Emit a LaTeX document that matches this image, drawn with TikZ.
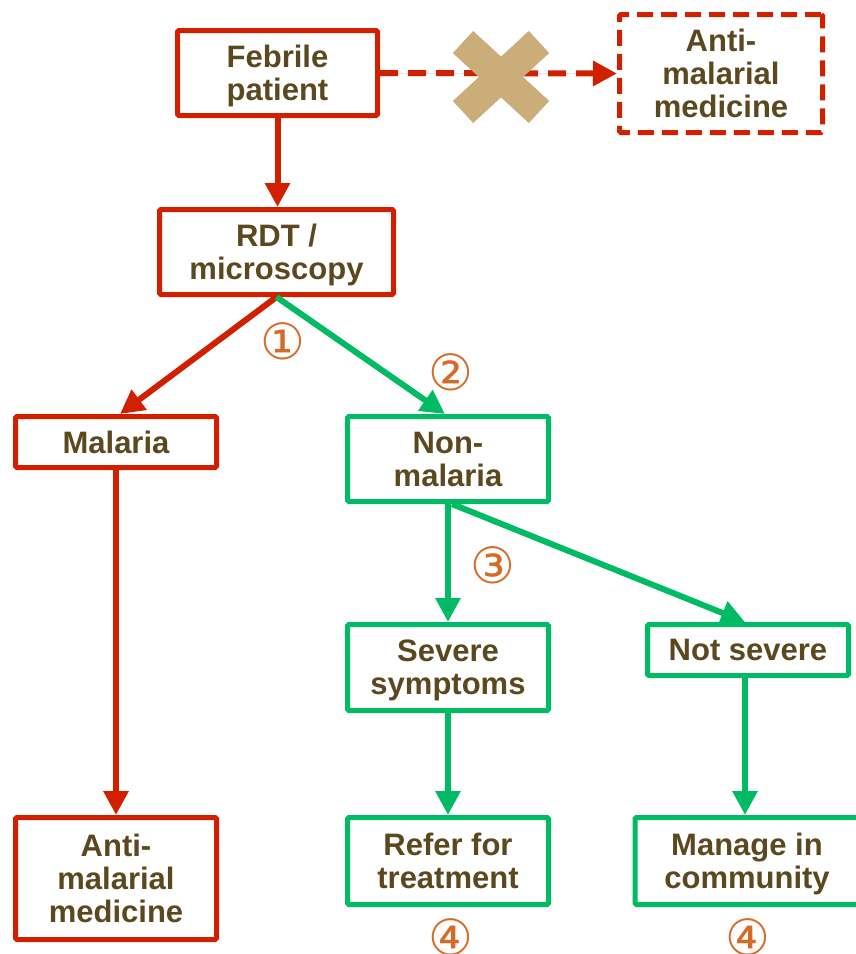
\documentclass[tikz,border=0pt]{standalone}
\usepackage{fontspec}
\setmainfont{Liberation Sans}
\newfontfamily\symfont{DejaVu Sans}
\usetikzlibrary{arrows.meta,calc}
\definecolor{cred}{RGB}{208,32,0}
\definecolor{cgreen}{RGB}{0,186,100}
\definecolor{ctext}{RGB}{92,72,30}
\definecolor{ctan}{RGB}{202,173,120}
\definecolor{corange}{RGB}{212,108,40}
\tikzset{
  box/.style={draw, rectangle, rounded corners=1.5pt, line width=5pt, fill=white,
    align=center, text=ctext, font=\fontsize{31}{33}\selectfont\bfseries, inner sep=0pt,
    text depth=0pt},
  redbox/.style={box, draw=cred},
  greenbox/.style={box, draw=cgreen},
  conn/.style={line width=6pt, -{Triangle[length=24pt,width=24pt]}},
  redconn/.style={conn, draw=cred, fill=cred},
  greenconn/.style={conn, draw=cgreen, fill=cgreen},
  numlabel/.style={text=corange, font=\symfont\fontsize{50}{50}\selectfont, inner sep=0pt}
}
\begin{document}
\begin{tikzpicture}[x=1pt,y=-1pt]
\useasboundingbox (0,0) rectangle (855,954);
% boxes
\node[redbox, minimum width=200pt, minimum height=85pt] (feb) at (277.5,73) {Febrile\\patient};
\node[redbox, dash pattern=on 16pt off 8pt, minimum width=203pt, minimum height=118pt] (amtop) at (721,73.5) {Anti-\\malarial\\medicine};
\node[redbox, minimum width=234pt, minimum height=85pt] (rdt) at (276.5,252) {RDT /\\microscopy};
\node[redbox, minimum width=201pt, minimum height=51pt] (mal) at (116,442) {Malaria};
\node[greenbox, minimum width=201pt, minimum height=85pt] (nm) at (448,459) {Non-\\malaria};
\node[greenbox, minimum width=201pt, minimum height=86pt] (sev) at (448,667.5) {Severe\\symptoms};
\node[greenbox, minimum width=201pt, minimum height=51pt] (ns) at (748,650) {Not severe};
\node[redbox, minimum width=201pt, minimum height=122pt] (ambot) at (116,878.5) {Anti-\\malarial\\medicine};
\node[greenbox, minimum width=201pt, minimum height=87pt] (ref) at (448,861) {Refer for\\treatment};
\node[greenbox, minimum width=224pt, minimum height=87pt] (man) at (747,861) {Manage in\\community};
% connectors
\draw[redconn] (feb.south) -- (feb.south |- rdt.north);
\draw[redconn, dash pattern=on 18pt off 10pt] (feb.east) -- (amtop.west);
\draw[redconn] (rdt.south) -- ($(mal.north)+(4,0)$);
\draw[greenconn] (rdt.south) -- ($(nm.north)+(-3,0)$);
\draw[greenconn] (nm.south) -- (sev.north);
\draw[greenconn] ($(nm.south)+(4,0)$) -- ($(ns.north)+(-3,0)$);
\draw[redconn] (mal.south) -- (ambot.north);
\draw[greenconn] (sev.south) -- (ref.north);
\draw[greenconn] ($(ns.south)+(-3,0)$) -- ($(ns.south |- man.north)+(-3,0)$);
% cross
\coordinate (xc) at (501,77);
\draw[ctan, line width=30pt] ($(xc)+(-38,-35)$) -- ($(xc)+(38,35)$);
\draw[ctan, line width=30pt] ($(xc)+(38,-35)$) -- ($(xc)+(-38,35)$);
% numbers
\node[numlabel] (n1) at (283,341) {①};
\node[numlabel] (n2) at (451,372) {②};
\node[numlabel] (n3) at (493,565) {③};
\node[numlabel] (n4a) at (451,937) {④};
\node[numlabel] (n4b) at (748,937) {④};
\end{tikzpicture}
\end{document}
